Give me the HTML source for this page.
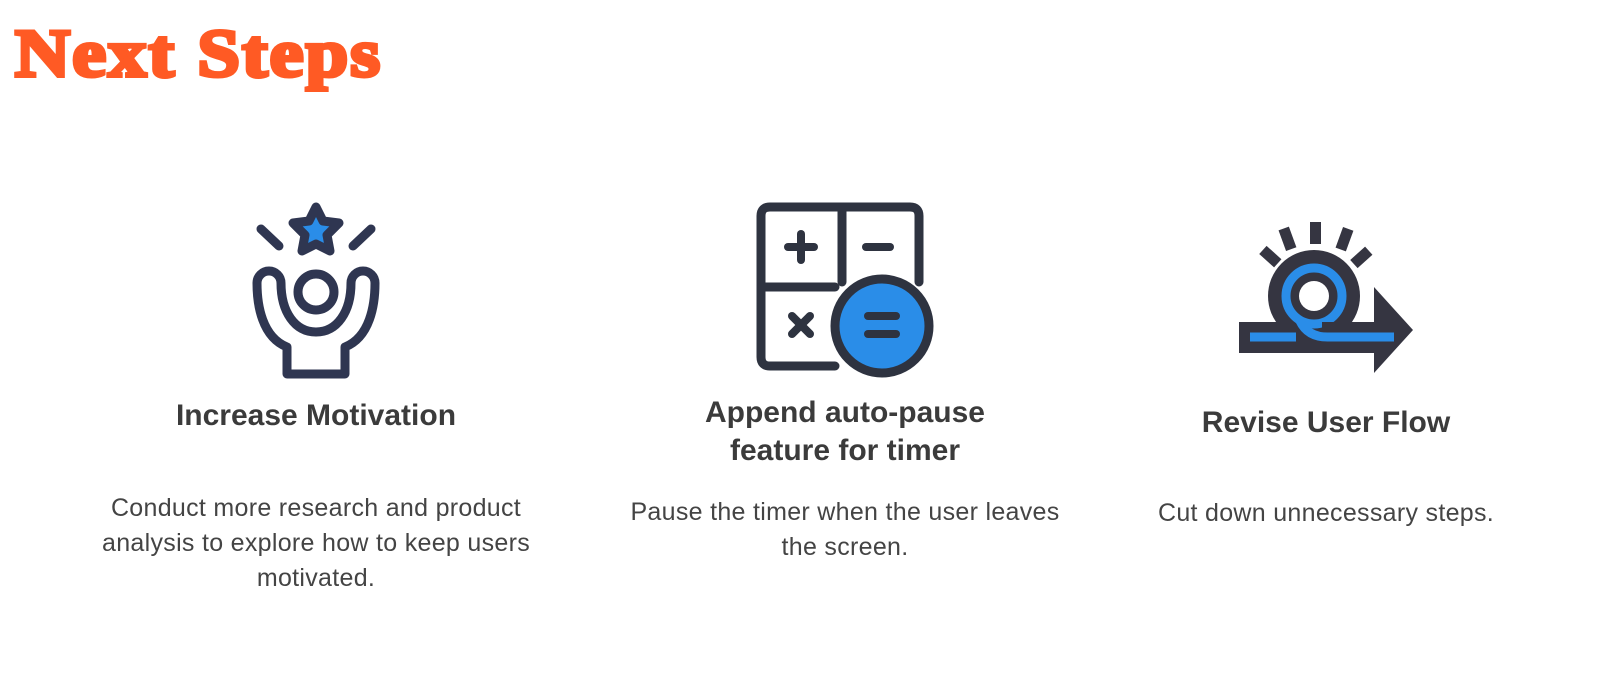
<!DOCTYPE html>
<html><head><style>
body{margin:0;width:1607px;height:677px;background:#fff;position:relative;overflow:hidden;font-family:"Liberation Sans",sans-serif}
.t{position:absolute;left:15px;top:14px;font-family:"Liberation Serif",serif;font-weight:900;font-size:68px;color:#ff5a24;-webkit-text-stroke:4px #ff5a24;letter-spacing:2px;white-space:nowrap;transform:scaleX(1.12);transform-origin:0 0}
.h{position:absolute;text-align:center;font-weight:bold;font-size:30px;color:#3b3b3b;line-height:38px;width:600px;white-space:nowrap}
.p{position:absolute;text-align:center;font-size:25px;color:#444;line-height:35px;width:600px;white-space:nowrap;letter-spacing:0.3px}
</style></head><body>
<div class="t">Next Steps</div>
<svg width="1607" height="677" style="position:absolute;left:0;top:0">
<g stroke="#2f3651" stroke-width="9" fill="none" stroke-linecap="round" stroke-linejoin="round">
<line x1="261" y1="229" x2="279" y2="246"/><line x1="371" y1="229" x2="353" y2="246"/>
<polygon fill="#2a8de8" points="316,207 323,221 339,223 327,235 330,251 316,244 302,251 305,235 293,223 309,221"/>
<circle cx="316" cy="292" r="18"/>
<path d="M287 374 L287 347 C262 337 257 305 257 283 A12 12 0 0 1 281 283 C281 312 295 332 316 332 C337 332 351 312 351 283 A12 12 0 0 1 375 283 C375 305 370 337 345 347 L345 374 Z"/>
</g>
<g stroke="#2e3340" stroke-width="9" fill="none" stroke-linecap="round">
<path d="M835 366 L770 366 Q761 366 761 357 L761 216 Q761 207 770 207 L910 207 Q919 207 919 216 L919 282"/>
<line x1="842" y1="207" x2="842" y2="282"/><line x1="761" y1="287" x2="835" y2="287"/>
<line x1="788" y1="247" x2="814" y2="247" stroke-width="8"/><line x1="801" y1="234" x2="801" y2="260" stroke-width="8"/>
<line x1="866" y1="247" x2="890" y2="247" stroke-width="8"/>
<line x1="792" y1="316" x2="810" y2="334" stroke-width="8"/><line x1="810" y1="316" x2="792" y2="334" stroke-width="8"/>
<circle cx="882" cy="326" r="47" fill="#2a8de8"/>
<line x1="868" y1="316" x2="896" y2="316" stroke-width="8"/><line x1="868" y1="334" x2="896" y2="334" stroke-width="8"/>
</g>
<g fill="#353541">
<rect x="1310" y="222" width="11" height="22"/>
<rect x="1282" y="228" width="11" height="22" transform="rotate(-20 1287 239)"/>
<rect x="1339" y="228" width="11" height="22" transform="rotate(20 1344 239)"/>
<rect x="1265" y="247" width="11" height="20" transform="rotate(-48 1270 257)"/>
<rect x="1356" y="247" width="11" height="20" transform="rotate(48 1361 257)"/>
<circle cx="1314" cy="296" r="46"/>
<rect x="1239" y="322" width="146" height="31"/>
<polygon points="1374,287 1413,330 1374,373"/>
</g>
<circle cx="1314" cy="296" r="28" fill="none" stroke="#2a8de8" stroke-width="9"/>
<circle cx="1314" cy="296" r="15" fill="#fff"/>
<path d="M1250 337 L1296 337 M1300 321 Q1308 338 1330 337 L1394 337" stroke="#2a8de8" stroke-width="9" fill="none"/>
<rect x="1322" y="322" width="70" height="8" fill="#353541"/>
</svg>
<div class="h" style="left:16px;top:397px">Increase Motivation</div>
<div class="p" style="left:16px;top:491px">Conduct more research and product<br>analysis to explore how to keep users<br>motivated.</div>
<div class="h" style="left:545px;top:394px">Append auto-pause<br>feature for timer</div>
<div class="p" style="left:545px;top:495px">Pause the timer when the user leaves<br>the screen.</div>
<div class="h" style="left:1026px;top:404px">Revise User Flow</div>
<div class="p" style="left:1026px;top:496px">Cut down unnecessary steps.</div>
</body></html>
